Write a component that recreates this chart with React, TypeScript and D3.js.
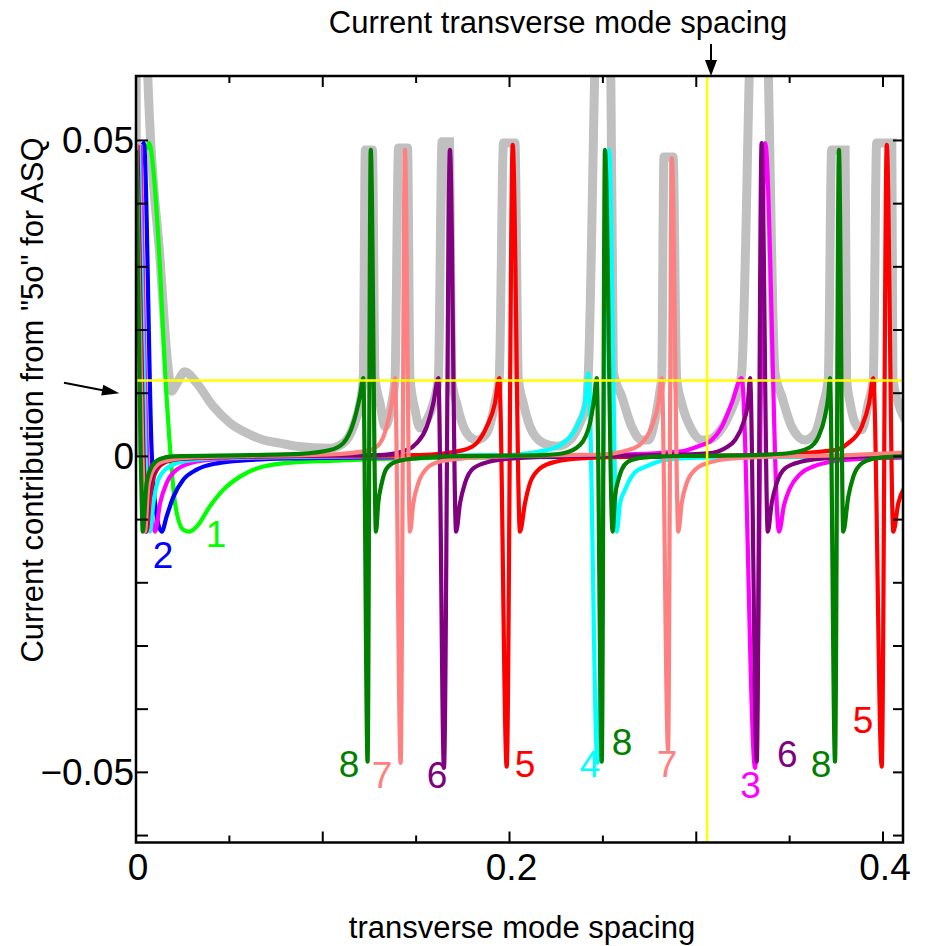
import React from "react";
import * as d3 from "d3";

type Pt = [number, number];

// ---- series (x = transverse mode spacing, y = current contribution) ----
const mode1: Pt[] = [[0.0059,0.0485],[0.0071,0.0496],[0.0093,0.0453],[0.0129,0.0295],[0.0155,0.0137],[0.0178,0.0031],[0.0209,-0.0074],[0.0253,-0.0116],[0.0285,-0.0119],[0.0325,-0.0111],[0.0396,-0.0079],[0.0467,-0.0053],[0.0557,-0.0032],[0.0682,-0.0016],[0.0861,-0.0009],[0.1039,-0.0007],[0.1307,-0.0004],[0.1681,-0.0002],[0.227,-0.0001],[0.4118,0]];

const mode2: Pt[] = [[0.0036,0.0493],[0.0042,0.0496],[0.0084,0.0006],[0.0111,-0.0095],[0.0138,-0.0119],[0.0164,-0.0095],[0.02,-0.0064],[0.0253,-0.0037],[0.0325,-0.0021],[0.0432,-0.0011],[0.0593,-0.0006],[0.0861,-0.0003],[0.1414,-0.0001],[0.4118,0]];

const mode3: Pt[] = [[0.0025,0.0493],[0.0059,0.0005],[0.0085,-0.0095],[0.0102,-0.0119],[0.0129,-0.0074],[0.0164,-0.0042],[0.0218,-0.0021],[0.0325,-0.0008],[0.0503,-0.0003],[0.0878,-0.0001],[0.1681,0],[0.2485,0.0002],[0.2922,0.0008],[0.3011,0.0016],[0.3083,0.0026],[0.3137,0.0047],[0.319,0.0084],[0.3243,0.0124],[0.3315,-0.0493],[0.3369,0.0496],[0.3443,-0.0119],[0.347,-0.0077],[0.3502,-0.005],[0.3556,-0.0028],[0.3627,-0.0016],[0.3727,-0.0008],[0.3877,-0.0004],[0.4118,-0.0002]];

const mode4: Pt[] = [[0.0015,0.0493],[0.005,0.0005],[0.0066,-0.009],[0.0075,-0.0119],[0.0093,-0.0074],[0.0119,-0.0037],[0.0164,-0.0019],[0.0253,-0.0008],[0.0414,-0.0003],[0.0718,-0.0001],[0.1414,0.0001],[0.1949,0.0002],[0.2199,0.001],[0.2288,0.0021],[0.236,0.0047],[0.2404,0.0084],[0.2422,0.0132],[0.2471,-0.0485],[0.2533,0.0485],[0.2574,-0.0119],[0.2592,-0.0074],[0.2618,-0.0053],[0.2672,-0.0025],[0.2731,-0.0016],[0.2831,-0.0006],[0.3021,-0.0002],[0.4118,0]];

const mode5: Pt[] = [[0.0008,0.0493],[0.004,0.0005],[0.0052,-0.009],[0.0057,-0.0119],[0.0075,-0.0064],[0.0102,-0.0027],[0.0146,-0.0011],[0.0236,-0.0004],[0.0503,-0.0001],[0.1039,0.0001],[0.1521,0.0002],[0.1753,0.001],[0.1824,0.0021],[0.1878,0.0047],[0.1922,0.0084],[0.1945,0.0124],[0.1985,-0.0491],[0.2017,0.0493],[0.2056,-0.0119],[0.2083,-0.0074],[0.211,-0.0042],[0.2163,-0.0019],[0.2253,-0.0008],[0.2378,-0.0003],[0.2699,0],[0.3341,0.0002],[0.3743,0.001],[0.3814,0.0021],[0.3886,0.0047],[0.3925,0.0084],[0.3948,0.0124],[0.3993,-0.0491],[0.402,0.0493],[0.4055,-0.0119],[0.4082,-0.0074],[0.4118,-0.0048]];

const mode6: Pt[] = [[0.0006,0.0491],[0.0038,0.0005],[0.0048,-0.009],[0.0052,-0.0119],[0.007,-0.0053],[0.0096,-0.0025],[0.0139,-0.001],[0.0236,-0.0004],[0.0503,-0.0001],[0.0878,0.0001],[0.1307,0.0002],[0.145,0.001],[0.1503,0.0021],[0.1557,0.0047],[0.1592,0.0084],[0.1619,0.0124],[0.1649,-0.0493],[0.1681,0.0485],[0.1714,-0.0119],[0.1735,-0.0074],[0.1762,-0.0042],[0.1806,-0.0019],[0.1896,-0.0008],[0.202,-0.0003],[0.227,0],[0.2752,0.0002],[0.3065,0.0005],[0.3154,0.0013],[0.3208,0.0026],[0.3252,0.0053],[0.3276,0.0084],[0.3288,0.0124],[0.3324,-0.0483],[0.335,0.0496],[0.3383,-0.0119],[0.3404,-0.0074],[0.3431,-0.0042],[0.3475,-0.0019],[0.3565,-0.0008],[0.3689,-0.0003],[0.393,0],[0.4118,0.0001]];

const mode7: Pt[] = [[0.0002,0.0493],[0.0034,0.0005],[0.0044,-0.009],[0.0048,-0.0119],[0.0066,-0.0048],[0.0093,-0.0021],[0.0146,-0.0008],[0.0289,-0.0002],[0.0664,0.0001],[0.1039,0.0003],[0.1253,0.001],[0.1307,0.0021],[0.1342,0.0047],[0.1369,0.0084],[0.1387,0.0124],[0.1417,-0.0485],[0.144,0.0485],[0.1467,-0.0119],[0.1485,-0.0074],[0.1512,-0.0042],[0.1557,-0.0019],[0.1628,-0.0008],[0.1753,-0.0003],[0.1949,0],[0.227,0.0002],[0.2485,0.0003],[0.2636,0.001],[0.2708,0.0021],[0.2761,0.0047],[0.2797,0.0084],[0.2815,0.0124],[0.2849,-0.0464],[0.2869,0.0472],[0.2904,-0.0119],[0.2922,-0.0074],[0.2949,-0.0042],[0.3002,-0.0019],[0.3091,-0.0008],[0.3208,-0.0003],[0.3448,0],[0.3823,0.0002],[0.4118,0.0006]];

const mode8: Pt[] = [[0.0002,0.0485],[0.0025,0.0005],[0.0032,-0.009],[0.0036,-0.0119],[0.0057,-0.0042],[0.0084,-0.0016],[0.0129,-0.0004],[0.0198,0],[0.061,0.0002],[0.0878,0.0004],[0.1039,0.001],[0.111,0.0021],[0.1164,0.0053],[0.1199,0.0095],[0.1217,0.0124],[0.124,-0.0483],[0.1257,0.0485],[0.1285,-0.0119],[0.1297,-0.0074],[0.1316,-0.0042],[0.1342,-0.0019],[0.1396,-0.0008],[0.1503,-0.0003],[0.1681,0],[0.1949,0.0001],[0.2163,0.0002],[0.2288,0.0005],[0.2377,0.0018],[0.2431,0.0053],[0.2452,0.0089],[0.2467,0.0124],[0.2494,-0.0483],[0.2511,0.0485],[0.2552,-0.0119],[0.2565,-0.0064],[0.2583,-0.0037],[0.2601,-0.0021],[0.2636,-0.0008],[0.269,-0.0003],[0.2806,0],[0.3288,0.0002],[0.3493,0.0005],[0.36,0.0013],[0.3654,0.0031],[0.3689,0.0063],[0.3707,0.0095],[0.3716,0.0124],[0.3743,-0.0483],[0.3764,0.0485],[0.3787,-0.0119],[0.3814,-0.0064],[0.3841,-0.0032],[0.3886,-0.0011],[0.3957,-0.0003],[0.4118,0]];

const envelope: Pt[] = [[0,0],[0.0002,0.075],[0.0055,0.075],[0.0062,0.0612],[0.0129,0.0311],[0.0173,0.0137],[0.0191,0.0103],[0.0214,0.0113],[0.0262,0.0134],[0.0325,0.0116],[0.0414,0.0079],[0.0503,0.0053],[0.0593,0.0037],[0.0682,0.0026],[0.0771,0.0021],[0.0861,0.0016],[0.1039,0.0013],[0.111,0.0021],[0.1164,0.0047],[0.1199,0.0084],[0.1217,0.0124],[0.1228,0.0485],[0.1266,0.0485],[0.128,0.0124],[0.1307,0.0084],[0.1333,0.0047],[0.1369,0.0084],[0.1387,0.0124],[0.1406,0.0488],[0.1454,0.0488],[0.1467,0.0124],[0.1494,0.0074],[0.1521,0.0045],[0.1558,0.0058],[0.1592,0.0084],[0.1619,0.0124],[0.1639,0.0498],[0.1679,0.0498],[0.169,0.0124],[0.1717,0.0084],[0.1771,0.0037],[0.1824,0.0026],[0.1878,0.0037],[0.1922,0.0084],[0.1945,0.0124],[0.1968,0.0496],[0.2029,0.0496],[0.2047,0.0124],[0.2074,0.0084],[0.211,0.0047],[0.2181,0.0021],[0.2253,0.0016],[0.2324,0.0026],[0.2377,0.0053],[0.2413,0.0084],[0.2422,0.0132],[0.2474,0.075],[0.2538,0.075],[0.2556,0.0134],[0.2601,0.0095],[0.2654,0.0047],[0.2708,0.0026],[0.2744,0.0026],[0.2779,0.0058],[0.2806,0.0105],[0.2815,0.0124],[0.2827,0.0474],[0.2876,0.0474],[0.2895,0.0124],[0.2922,0.0084],[0.2976,0.0042],[0.3029,0.0026],[0.3065,0.0026],[0.3118,0.0037],[0.3172,0.0063],[0.3225,0.0105],[0.3243,0.0132],[0.3304,0.075],[0.3369,0.075],[0.3422,0.0132],[0.3458,0.0095],[0.3511,0.0047],[0.3582,0.0026],[0.3636,0.0037],[0.3681,0.0084],[0.3707,0.0124],[0.3725,0.0485],[0.3797,0.0485],[0.3805,0.0124],[0.3824,0.0084],[0.385,0.0053],[0.3886,0.0042],[0.3921,0.0084],[0.3948,0.0124],[0.3966,0.0496],[0.4047,0.0496],[0.4053,0.0124],[0.4082,0.0084],[0.4118,0.0058]];

const modeSeries: Pt[][] = [mode1, mode2, mode3, mode4, mode5, mode6, mode7, mode8];
const modeColors = ["#00ff00", "#0000ff", "#ff00ff", "#00ffff", "#ff0000", "#800080", "#ff8080", "#008000"];

// mode-number labels placed next to the curves (data coordinates)
const labelModes = [1, 2, 8, 7, 6, 5, 4, 8, 7, 3, 6, 8, 5];
const labelXs = [0.0428, 0.0145, 0.1141, 0.1317, 0.1612, 0.2083, 0.2431, 0.2602, 0.2843, 0.329, 0.3487, 0.3668, 0.3893];
const labelYs = [-0.0143, -0.0176, -0.0507, -0.0525, -0.0525, -0.0507, -0.0507, -0.0472, -0.0507, -0.054, -0.0491, -0.0507, -0.0438];

const currentSpacing = 0.3058;
const thresholdLevel = 0.012;

const xTickValues = [0, 0.05, 0.1, 0.15, 0.2, 0.25, 0.3, 0.35, 0.4];
const xMajorTicks = [0, 0.1, 0.2, 0.3, 0.4];
const xLabelValues = [0, 0.2, 0.4];
const xLabelTexts = ["0", "0.2", "0.4"];
const yTickValues = [-0.06, -0.05, -0.04, -0.03, -0.02, -0.01, 0, 0.01, 0.02, 0.03, 0.04, 0.05];
const yLabelValues = [0.05, 0, -0.05];
const yLabelTexts = ["0.05", "0", "\u22120.05"];

const FONT = "'Liberation Sans', Arial, Helvetica, sans-serif";

export default function App() {
  const W = 926, H = 946;
  const L = 136, R = 903, T = 76, B = 842.5;
  const x = d3.scaleLinear().domain([0, 0.4107]).range([L, R]);
  const y = d3.scaleLinear().domain([-0.0611, 0.0602]).range([B, T]);
  const line = d3.line<Pt>().x(d => x(d[0])).y(d => y(d[1])).curve(d3.curveMonotoneX);

  const yl = y(thresholdLevel);
  const xv = x(currentSpacing);

  return (
    <svg width={W} height={H} viewBox={`0 0 ${W} ${H}`}
      style={{ position: "absolute", left: 0, top: 0, display: "block", background: "#fff" }}
      fontFamily={FONT}>
      <defs>
        <clipPath id="plotClip">
          <rect x={L} y={T} width={R - L} height={B - T} />
        </clipPath>
      </defs>
      <rect x={0} y={0} width={W} height={H} fill="#fff" />
      <g clipPath="url(#plotClip)">
        <path d={line(envelope) || ""} fill="none" stroke="#c0c0c0" strokeWidth={9} strokeLinejoin="miter" />
        {modeSeries.map((s, i) => (
          <path key={i} d={line(s) || ""} fill="none" stroke={modeColors[i]} strokeWidth={4.2} strokeLinejoin="miter" />
        ))}
        <line x1={L} x2={R} y1={yl} y2={yl} stroke="#ffff00" strokeWidth={2.5} />
        <line x1={xv} x2={xv} y1={T} y2={B} stroke="#ffff00" strokeWidth={2.5} />
      </g>

      {/* ticks */}
      <g stroke="#000" strokeWidth={2}>
        {xTickValues.map((v, i) => {
          const len = xMajorTicks.some(m => Math.abs(m - v) < 1e-9) ? 11 : 7;
          return (
            <g key={i}>
              <line x1={x(v)} x2={x(v)} y1={B} y2={B - len} />
              <line x1={x(v)} x2={x(v)} y1={T} y2={T + len} />
            </g>
          );
        })}
        {yTickValues.map((v, i) => (
          <g key={i}>
            <line x1={L} x2={L + 12} y1={y(v)} y2={y(v)} />
            <line x1={R} x2={R - 10} y1={y(v)} y2={y(v)} />
          </g>
        ))}
      </g>
      <rect x={L} y={T} width={R - L} height={B - T} fill="none" stroke="#000" strokeWidth={2.5} />

      {/* tick labels */}
      {xLabelValues.map((v, i) => (
        <text key={i} x={x(v) + 2} y={880} fontSize={37} textAnchor="middle" fill="#000">{xLabelTexts[i]}</text>
      ))}
      {yLabelValues.map((v, i) => (
        <text key={i} x={134} y={y(v) + 12.5} fontSize={37} textAnchor="end" fill="#000">{yLabelTexts[i]}</text>
      ))}

      {/* axis titles */}
      <text x={522} y={938} fontSize={31} textAnchor="middle" fill="#000">transverse mode spacing</text>
      <text transform="translate(43,400) rotate(-90)" fontSize={31} textAnchor="middle" fill="#000">Current contribution from "5o" for ASQ</text>
      <text x={558} y={33} fontSize={31} textAnchor="middle" fill="#000">Current transverse mode spacing</text>

      {/* arrows */}
      <line x1={711} x2={711} y1={44} y2={62} stroke="#000" strokeWidth={2} />
      <polygon points="705,60 717,60 711,76" fill="#000" />
      <line x1={64} y1={382.7} x2={104} y2={390.5} stroke="#000" strokeWidth={2} />
      <polygon points="119.3,393.3 101.2,395.6 103.3,384.8" fill="#000" />

      {/* mode labels */}
      {labelModes.map((m, i) => (
        <text key={i} x={x(labelXs[i])} y={y(labelYs[i])} fontSize={37} textAnchor="middle" fill={modeColors[m - 1]}>{m}</text>
      ))}
    </svg>
  );
}
